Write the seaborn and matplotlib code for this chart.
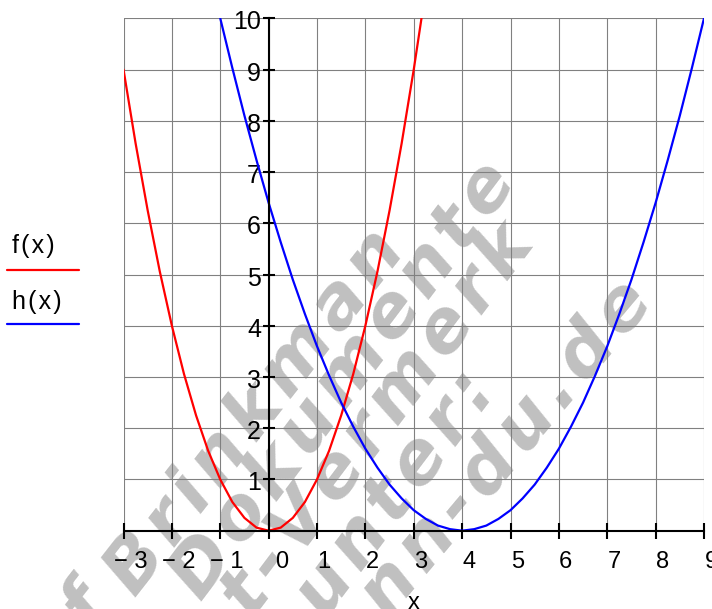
import numpy as np
import matplotlib
matplotlib.use("Agg")
import matplotlib.pyplot as plt
import matplotlib.transforms as mtransforms
from matplotlib.lines import Line2D
import seaborn as sns

# f(x) (red)
f_x = [-3.0, -2.75, -2.5, -2.25, -2.0, -1.75, -1.5, -1.25, -1.0, -0.75, -0.5, -0.25,
       0.0, 0.25, 0.5, 0.75, 1.0, 1.25, 1.5, 1.75, 2.0, 2.25, 2.5, 2.75, 3.0, 3.16]
f_y = [9.0, 7.56, 6.25, 5.06, 4.0, 3.06, 2.25, 1.56, 1.0, 0.56, 0.25, 0.06,
       0.0, 0.06, 0.25, 0.56, 1.0, 1.56, 2.25, 3.06, 4.0, 5.06, 6.25, 7.56, 9.0, 10.0]

# h(x) (blue)
h_x = [-1.0, -0.75, -0.5, -0.25, 0.0, 0.25, 0.5, 0.75, 1.0, 1.25, 1.5, 1.75, 2.0,
       2.25, 2.5, 2.75, 3.0, 3.25, 3.5, 3.75, 4.0, 4.25, 4.5, 4.75, 5.0, 5.25, 5.5,
       5.75, 6.0, 6.25, 6.5, 6.75, 7.0, 7.25, 7.5, 7.75, 8.0, 8.25, 8.5, 8.75, 9.0]
h_y = [10.0, 9.03, 8.1, 7.23, 6.4, 5.63, 4.9, 4.23, 3.6, 3.03, 2.5, 2.03, 1.6,
       1.23, 0.9, 0.63, 0.4, 0.23, 0.1, 0.03, 0.0, 0.03, 0.1, 0.23, 0.4, 0.63, 0.9,
       1.23, 1.6, 2.03, 2.5, 3.03, 3.6, 4.23, 4.9, 5.63, 6.4, 7.23, 8.1, 9.03, 10.0]

x_ticks = list(range(-3, 10))
x_labels = ["\u2212 3", "\u2212 2", "\u2212 1", "0", "1", "2", "3", "4", "5", "6", "7", "8", "9"]
y_ticks = list(range(0, 11))
y_labels = [""] + [str(v) for v in range(1, 11)]

# watermark pieces (text, anchor x px, anchor y px from top, angle)
wm_lines = [("f", 91, 630, 52),
            ("Brinkman", 135, 598, 52),
            ("Dokumente", 201, 602, 53),
            ("t-Vermerk", 252, 620, 53),
            ("unter:", 325, 620, 53),
            ("nn-du.de", 388, 620, 50)]

sns.set_theme(style="white")
plt.rcParams["font.family"] = ["Liberation Sans", "DejaVu Sans"]

W, H = 712, 609
fig = plt.figure(figsize=(W / 100, H / 100), dpi=100)
ax = fig.add_axes([123.5 / W, 1 - 530.7 / H, (704 - 123.5) / W, (530.7 - 18.3) / H])

for txt, px, py, ang in wm_lines:
    spaced = "\u200a".join(txt)
    ax.text(px / W, 1 - py / H, spaced, transform=fig.transFigure, rotation=ang,
            rotation_mode="anchor", ha="left", va="baseline", fontsize=52,
            fontweight="bold", fontstyle="oblique", family="DejaVu Sans",
            color="#c0c0c0", clip_on=False, zorder=0.3)

sns.lineplot(x=f_x, y=f_y, ax=ax, color="#ff0000", lw=1.6, zorder=2)
sns.lineplot(x=h_x, y=h_y, ax=ax, color="#0000ff", lw=1.6, zorder=2)

ax.set_xlim(-3, 9)
ax.set_ylim(0, 10)
ax.set_xticks(x_ticks)
ax.set_xticklabels(x_labels)
ax.set_yticks(y_ticks)
ax.set_yticklabels(y_labels)
ax.grid(True, color="#808080", lw=0.8)
ax.set_axisbelow(True)

for s in ["top", "right"]:
    ax.spines[s].set_visible(False)
ax.spines["left"].set_position(("data", 0))
ax.spines["bottom"].set_position(("data", 0))
for s in ["left", "bottom"]:
    ax.spines[s].set_color("black")
    ax.spines[s].set_linewidth(1.5)

ax.tick_params(axis="x", direction="inout", length=12, width=1.5, color="black",
               labelsize=17, pad=8.5, bottom=True, labelcolor="black")
ax.tick_params(axis="y", direction="inout", length=8, width=1.5, color="black",
               labelsize=18, pad=1.5, left=True, labelcolor="black")

shift_x = mtransforms.ScaledTranslation(0.07, 0, fig.dpi_scale_trans)
for lab in ax.get_xticklabels():
    extra = 0.06 if lab.get_text() == "0" else 0.0
    lab.set_transform(lab.get_transform() + shift_x
                      + mtransforms.ScaledTranslation(extra, 0, fig.dpi_scale_trans))
shift_y = mtransforms.ScaledTranslation(0, -0.015, fig.dpi_scale_trans)
for lab in ax.get_yticklabels():
    lab.set_transform(lab.get_transform() + shift_y)

ax.set_xlabel("x", fontsize=17, labelpad=14, color="black")
ax.set_ylabel("")

# legend at the left, Mathcad style
fig.text(12 / W, 1 - 253 / H, "f\u200a(\u200ax\u200a)", fontsize=18, ha="left",
         va="baseline", color="black")
fig.add_artist(Line2D([7 / W, 79 / W], [1 - 270 / H] * 2, color="#ff0000", lw=1.6))
fig.text(12 / W, 1 - 309 / H, "h\u200a(\u200ax\u200a)", fontsize=18, ha="left",
         va="baseline", color="black")
fig.add_artist(Line2D([7 / W, 79 / W], [1 - 324 / H] * 2, color="#0000ff", lw=1.6))

fig.savefig("out.png", dpi=100)
